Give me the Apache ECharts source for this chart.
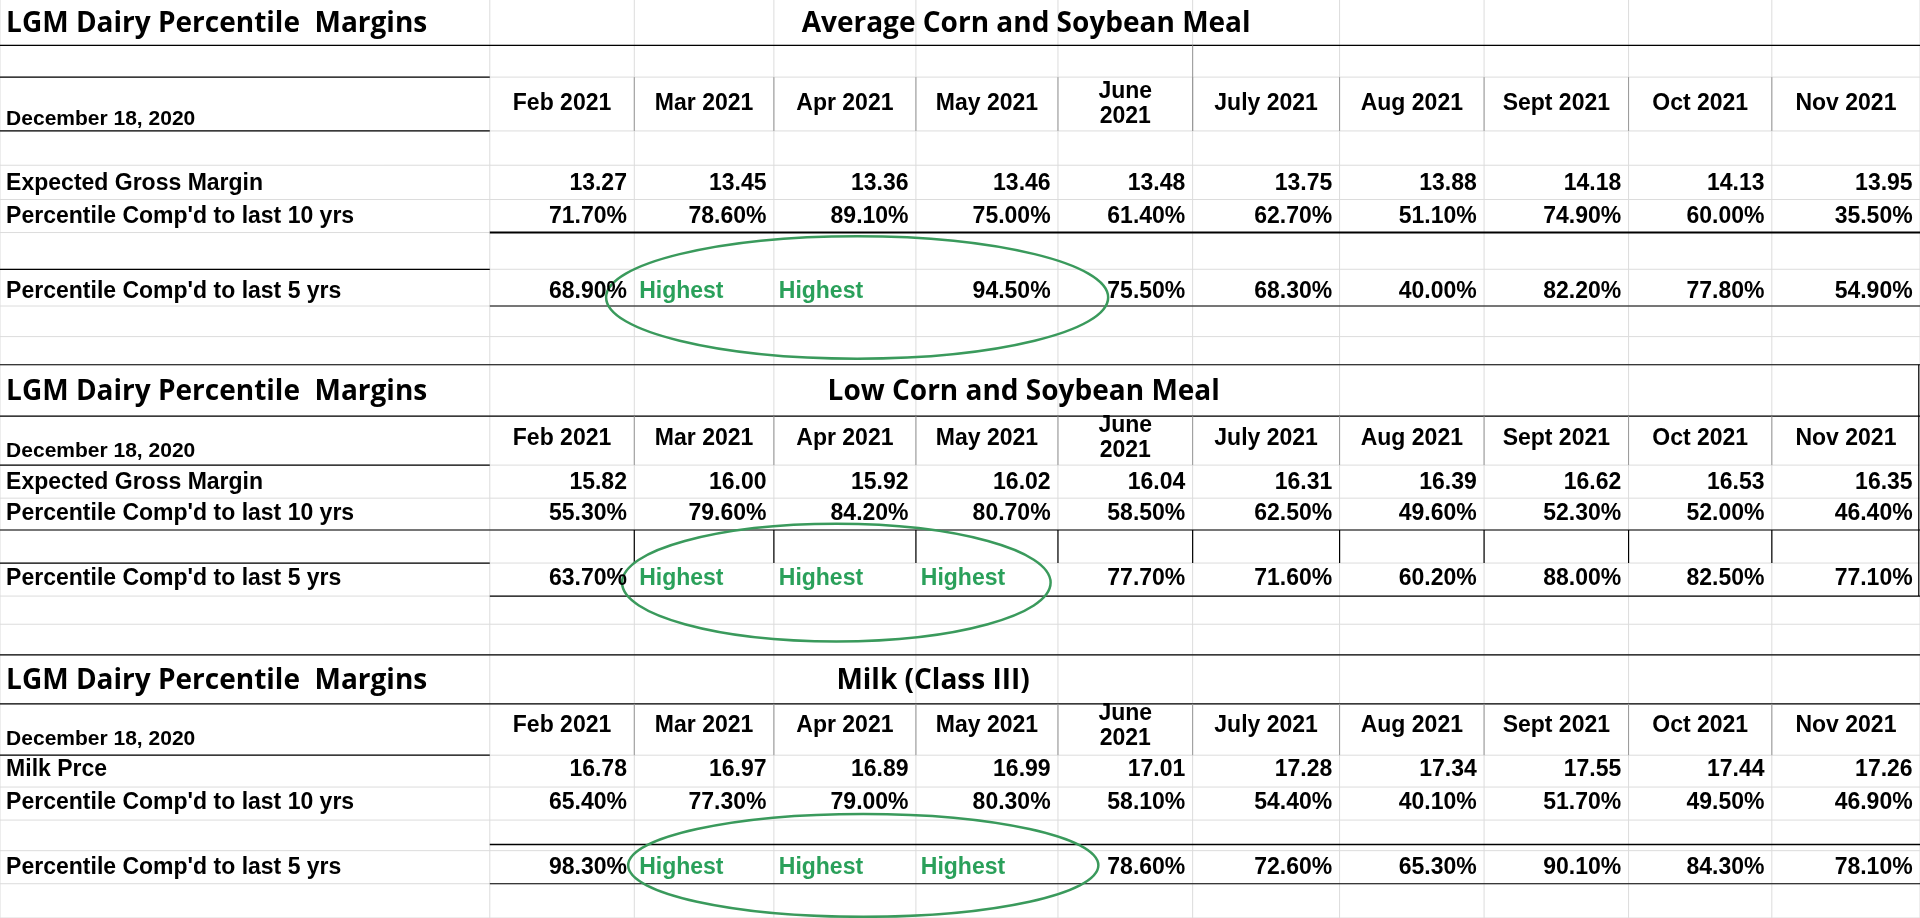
<!DOCTYPE html>
<html><head><meta charset="utf-8">
<script src="https://cdn.jsdelivr.net/npm/echarts@6/dist/echarts.min.js"></script>
<style>html,body{margin:0;padding:0;background:#fff}#c{width:1920px;height:918px}</style>
</head><body><div id="c"></div>
<script>
const months = ['Feb 2021','Mar 2021','Apr 2021','May 2021','June\n2021','July 2021','Aug 2021','Sept 2021','Oct 2021','Nov 2021'];
const titleLeft = 'LGM Dairy Percentile  Margins';
const dateLabel = 'December 18, 2020';
const blockTitles = ['Average Corn and Soybean Meal','Low Corn and Soybean Meal','Milk (Class III)'];
const rowLabels = [
  ['Expected Gross Margin','Percentile Comp\'d to last 10 yrs','Percentile Comp\'d to last 5 yrs'],
  ['Expected Gross Margin','Percentile Comp\'d to last 10 yrs','Percentile Comp\'d to last 5 yrs'],
  ['Milk Prce','Percentile Comp\'d to last 10 yrs','Percentile Comp\'d to last 5 yrs']
];
const avgMargin = ['13.27','13.45','13.36','13.46','13.48','13.75','13.88','14.18','14.13','13.95'];
const avg10 = ['71.70%','78.60%','89.10%','75.00%','61.40%','62.70%','51.10%','74.90%','60.00%','35.50%'];
const avg5 = ['68.90%','Highest','Highest','94.50%','75.50%','68.30%','40.00%','82.20%','77.80%','54.90%'];
const lowMargin = ['15.82','16.00','15.92','16.02','16.04','16.31','16.39','16.62','16.53','16.35'];
const low10 = ['55.30%','79.60%','84.20%','80.70%','58.50%','62.50%','49.60%','52.30%','52.00%','46.40%'];
const low5 = ['63.70%','Highest','Highest','Highest','77.70%','71.60%','60.20%','88.00%','82.50%','77.10%'];
const milkPrice = ['16.78','16.97','16.89','16.99','17.01','17.28','17.34','17.55','17.44','17.26'];
const milk10 = ['65.40%','77.30%','79.00%','80.30%','58.10%','54.40%','40.10%','51.70%','49.50%','46.90%'];
const milk5 = ['98.30%','Highest','Highest','Highest','78.60%','72.60%','65.30%','90.10%','84.30%','78.10%'];

const W = 1568, H = 750;
const colEdges = [0,400,518,632,748,864,974,1094,1212,1330,1447,1568];
const blocks = [
  {vals:[avgMargin,avg10,avg5], title:20, sub:838, header:85, date:97, rows:[150,177,238]},
  {vals:[lowMargin,low10,low5], title:320, sub:836, header:358, date:369, rows:[394,420,473]},
  {vals:[milkPrice,milk10,milk5], title:556, sub:762, header:593, date:604, rows:[629,656,709]}
];
const ellipses = [[700,243,205,50],[683,476,175,48],[705,707,192,42]];

const texts = [];
const T = (x,y,s,o)=>texts.push(Object.assign({x,y,s,align:'left',size:18.5,color:'#000',font:'Liberation Sans'},o||{}));
blocks.forEach((b,bi)=>{
  T(5,b.title,titleLeft,{size:23,font:'Open Sans'});
  T(b.sub,b.title,blockTitles[bi],{size:23,align:'center',font:'Open Sans'});
  T(5,b.date,dateLabel,{size:17});
  months.forEach((m,i)=>T((colEdges[i+1]+colEdges[i+2])/2,b.header,m,{align:'center',size:18.5}));
  b.rows.forEach((y,ri)=>{
    T(5,y,rowLabels[bi][ri]);
    b.vals[ri].forEach((v,i)=>{
      if(v==='Highest') T(colEdges[i+1]+4,y,v,{color:'#2aa05a'});
      else T(colEdges[i+2]-6,y,v,{align:'right'});
    });
  });
});

const lines = [];
const L=(x1,y1,x2,y2,w,c)=>lines.push([x1,y1,x2,y2,w||1,c||'#000']);
[37,63,107,135,163,190,220,250,275,298,340,380,407,433,460,487,510,535,575,617,643,670,695,722,750].forEach(y=>L(0,y,W,y,1,'#dcdcdc'));
colEdges.forEach(x=>L(x,0,x,H,1,'#dcdcdc'));
L(0,37,W,37,1.2);L(0,63,400,63,1.2);L(0,107,400,107,1.2);
[518,632,748,864,974,1094,1212,1330,1447].forEach(x=>L(x,63,x,107,1,'#999'));
L(974,37,974,107,1,'#999');
L(400,190,W,190,2);L(0,220,400,220,1.2);L(400,250,W,250,1.2);
L(0,298,W,298,1.2);L(0,340,W,340,1.2);L(0,380,400,380,1.2);
[518,632,748,864,974,1094,1212,1330,1447].forEach(x=>L(x,340,x,380,1,'#999'));
L(0,433,W,433,1.2);L(0,460,400,460,1.2);
[518,632,748,864,974,1094,1212,1330,1447].forEach(x=>L(x,433,x,460,1.2));
L(400,487,W,487,1.2);L(W-1,298,W-1,487,1.2);
L(0,535,W,535,1.2);L(0,575,W,575,1.2);L(0,617,400,617,1.2);
[518,632,748,864,974,1094,1212,1330,1447].forEach(x=>L(x,575,x,617,1,'#999'));
L(400,690,W,690,1.5);L(400,722,W,722,1.2);

const chart = echarts.init(document.getElementById('c'));
const k = 1920/W;
chart.setOption({
  animation:false,
  grid:{left:0,right:0,top:0,bottom:0},
  xAxis:{type:'value',min:0,max:W,show:false},
  yAxis:{type:'value',min:0,max:H,inverse:true,show:false},
  series:[
    {type:'custom',data:lines.map(l=>[l[0],l[1],l[2],l[3]]),silent:true,
     renderItem:(p,api)=>{const l=lines[p.dataIndex];const a=api.coord([l[0],l[1]]),b=api.coord([l[2],l[3]]);
       return {type:'line',shape:{x1:a[0],y1:a[1],x2:b[0],y2:b[1]},style:{stroke:l[5],lineWidth:l[4]}};}},
    {type:'custom',data:ellipses.map(e=>[e[0],e[1]]),silent:true,
     renderItem:(p,api)=>{const e=ellipses[p.dataIndex];const c=api.coord([e[0],e[1]]);
       return {type:'ellipse',shape:{cx:c[0],cy:c[1],rx:e[2]*k,ry:e[3]*k},style:{fill:null,stroke:'#3a9a5c',lineWidth:2.5}};}},
    {type:'custom',data:texts.map(t=>[t.x,t.y]),silent:true,
     renderItem:(p,api)=>{const t=texts[p.dataIndex];const c=api.coord([t.x,t.y]);
       return {type:'text',x:c[0],y:c[1],style:{text:t.s,textAlign:t.align,textVerticalAlign:'middle',
         font:'bold '+Math.round(t.size*k)+'px "'+t.font+'", Arial, sans-serif',fill:t.color,lineHeight:Math.round(t.size*k*1.1)}};}}
  ]
});
</script></body></html>
